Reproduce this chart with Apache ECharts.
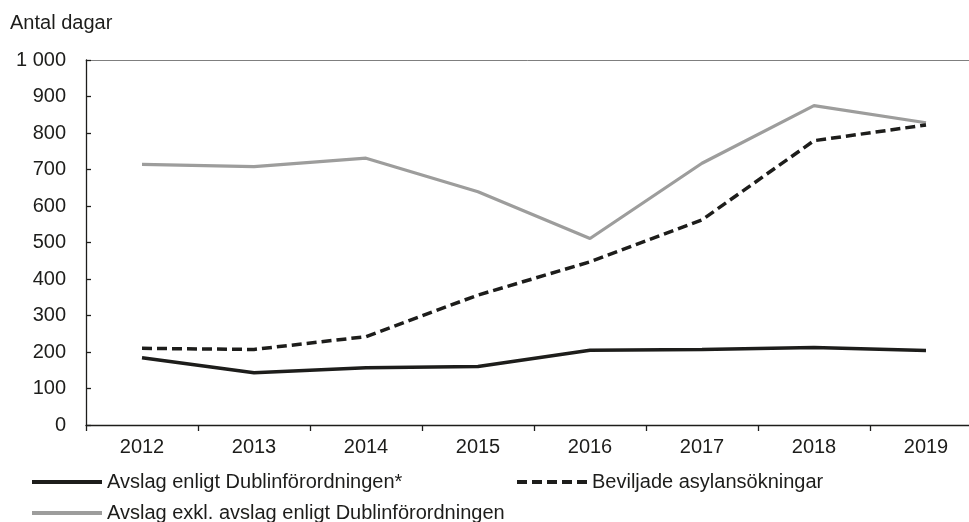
<!DOCTYPE html>
<html>
<head>
<meta charset="utf-8">
<script src="https://cdn.jsdelivr.net/npm/echarts@6/dist/echarts.min.js"></script>
<style>
  html, body { margin: 0; padding: 0; background: #fff; overflow: hidden; }
  #chart { width: 969px; height: 522px; overflow: hidden; }
</style>
</head>
<body>
<div id="chart"></div>
<script>
// Genomsnittlig handläggningstid (antal dagar) per år
const years = ['2012', '2013', '2014', '2015', '2016', '2017', '2018', '2019'];
const dublin = [184, 143, 157, 160, 205, 207, 212, 204];
const beviljade = [210, 207, 242, 356, 447, 562, 779, 822];
const avslagExkl = [714, 708, 731, 639, 511, 717, 875, 828];

const nameDublin = 'Avslag enligt Dublinförordningen*';
const nameBeviljade = 'Beviljade asylansökningar';
const nameExkl = 'Avslag exkl. avslag enligt Dublinförordningen';

const FONT = '"Liberation Sans", Arial, sans-serif';
const INK = '#1d1d1b';
const GREY = '#9d9d9c';

const chart = echarts.init(document.getElementById('chart'), null, { renderer: 'canvas' });

// One legend per entry so each can sit where it belongs in the two-row key
function legendFor(name, left, top) {
  return {
    data: [name],
    left: left,
    top: top,
    orient: 'horizontal',
    itemWidth: 70,
    itemHeight: 14,
    selectedMode: false,
    textStyle: { fontFamily: FONT, fontSize: 20, color: INK },
    itemStyle: { opacity: 0 },
    lineStyle: { width: 4 }
  };
}

chart.setOption({
  animation: false,
  title: {
    text: 'Antal dagar',
    left: 5,
    top: 8,
    textStyle: { fontFamily: FONT, fontSize: 20, fontWeight: 'normal', color: INK }
  },
  legend: [
    legendFor(nameDublin, 25, 467),
    legendFor(nameBeviljade, 510, 467),
    legendFor(nameExkl, 25, 498)
  ],
  // the plot runs slightly past the right edge of the canvas
  grid: {
    left: 86, top: 60, width: 896, height: 365,
    containLabel: false,
    outerBoundsMode: 'none'
  },
  xAxis: [
    {
      type: 'category',
      data: years,
      boundaryGap: true,
      axisLine: { lineStyle: { color: INK, width: 1.3 } },
      axisTick: { show: true, inside: false, length: 6, lineStyle: { color: INK, width: 1.3 } },
      axisLabel: { fontFamily: FONT, fontSize: 20, color: INK, margin: 12 },
      splitLine: { show: false }
    },
    {
      type: 'category',
      data: years,
      position: 'top',
      axisLine: { show: true, lineStyle: { color: '#7f7f7f', width: 1 } },
      axisTick: { show: false },
      axisLabel: { show: false },
      splitLine: { show: false }
    }
  ],
  yAxis: {
    type: 'value',
    min: 0,
    max: 1000,
    interval: 100,
    axisLine: { show: true, lineStyle: { color: INK, width: 1.3 } },
    axisTick: { show: true, inside: true, length: 5, lineStyle: { color: INK, width: 1.3 } },
    axisLabel: {
      fontFamily: FONT,
      fontSize: 20,
      color: INK,
      margin: 20,
      formatter: v => String(v).replace(/\B(?=(\d{3})+(?!\d))/g, ' ')
    },
    splitLine: { show: false }
  },
  series: [
    {
      name: nameDublin,
      type: 'line',
      data: dublin,
      symbol: 'none',
      lineStyle: { color: INK, width: 3.5 },
      itemStyle: { color: INK },
      z: 3
    },
    {
      name: nameBeviljade,
      type: 'line',
      data: beviljade,
      symbol: 'none',
      lineStyle: { color: INK, width: 3.5, type: [10, 5] },
      itemStyle: { color: INK },
      z: 3
    },
    {
      name: nameExkl,
      type: 'line',
      data: avslagExkl,
      symbol: 'none',
      lineStyle: { color: GREY, width: 3.2 },
      itemStyle: { color: GREY },
      z: 2
    }
  ]
});
</script>
</body>
</html>
